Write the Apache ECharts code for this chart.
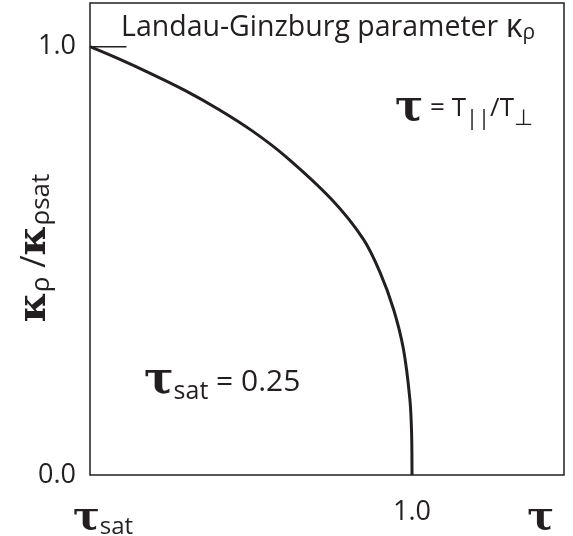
<!DOCTYPE html>
<html>
<head>
    <meta charset="utf-8">
    <script type="text/javascript" src="https://cdn.jsdelivr.net/npm/echarts@6/dist/echarts.min.js"></script>
</head>
<body style="margin:0">
	<div id="main" style="width:573px; height:536px"></div>
	<script type="text/javascript">
		// curve: tau vs kappa_rho / kappa_rho_sat
		var tau = [0.25, 0.316, 0.394, 0.471, 0.549, 0.627, 0.704, 0.813, 0.887, 0.926, 0.957, 0.980, 0.995, 0.999, 1.0];
		var kappaRatio = [1.0, 0.972, 0.936, 0.898, 0.854, 0.804, 0.745, 0.643, 0.550, 0.472, 0.387, 0.294, 0.177, 0.099, 0.0];

		// short leader line for the "Landau-Ginzburg parameter" label
		var leaderTau = [0.25, 0.335];
		var leaderKappa = [1.0, 1.0];

		var xTicks = [0.25, 1.0, 1.3];
		var xTickLabels = ['τsat', '1.0', 'τ'];
		var yTicks = [0, 1.0];
		var yTickLabels = ['0.0', '1.0'];

		var ink = '#231f20';
		var sans = '"Open Sans", "Noto Sans", sans-serif';
		var serif = '"DejaVu Serif", serif';

		var curve = [];
		for (var i = 0; i < tau.length; i++) {
			curve.push([tau[i], kappaRatio[i]]);
		}
		var leader = [];
		for (var j = 0; j < leaderTau.length; j++) {
			leader.push([leaderTau[j], leaderKappa[j]]);
		}

		var myChart = echarts.init(document.getElementById('main'));
		var option = {
			animation: false,
			grid: {
				left: 90, top: 3, right: 9, bottom: 61,
				outerBoundsMode: 'none',
				show: true, borderColor: ink, borderWidth: 1.5
			},
			xAxis: {
				type: 'value',
				min: 0.25,
				max: 1.354,
				axisLine: { show: false },
				axisTick: { show: false },
				splitLine: { show: false },
				axisLabel: {
					customValues: xTicks,
					margin: 24,
					color: ink,
					fontFamily: sans,
					fontSize: 27,
					formatter: function (v) {
						var s = xTickLabels[xTicks.indexOf(v)];
						if (s === 'τsat') return '{tf|τ}{sub|sat}';
						if (s === 'τ') return '{t|τ}';
						return s;
					},
					rich: {
						tf: { fontFamily: serif, fontWeight: 'bold', fontSize: 40, color: ink, padding: [0, 0, 0, 26] },
						t: { fontFamily: serif, fontWeight: 'bold', fontSize: 40, color: ink, padding: [0, 0, 16, 0] },
						sub: { fontFamily: sans, fontSize: 24, color: ink, verticalAlign: 'bottom', lineHeight: 24 }
					}
				}
			},
			yAxis: {
				type: 'value',
				min: 0,
				max: 1.102,
				axisLine: { show: false },
				axisTick: { show: false },
				splitLine: { show: false },
				name: '{k|κ}{r|ρ}{sl| /}{k|κ}{r|ρsat}',
				nameLocation: 'middle',
				nameRotate: 90,
				nameGap: 35,
				nameMoveOverlap: false,
				nameTextStyle: {
					color: ink,
					padding: [0, 0, 0, -18],
					rich: {
						k: { fontFamily: serif, fontWeight: 'bold', fontSize: 40, color: ink },
						r: { fontFamily: sans, fontSize: 26, color: ink, verticalAlign: 'bottom', lineHeight: 26 },
						sl: { fontFamily: sans, fontSize: 34, color: ink }
					}
				},
				axisLabel: {
					customValues: yTicks,
					margin: 14,
					color: ink,
					fontFamily: sans,
					fontSize: 27,
					formatter: function (v) {
						return yTickLabels[yTicks.indexOf(v)];
					}
				}
			},
			graphic: [
				{
					type: 'text', left: 121, top: 12,
					style: {
						text: 'Landau-Ginzburg parameter {r|κ}{s|ρ}',
						fill: ink,
						font: '28.5px ' + sans,
						rich: {
							r: { fontFamily: sans, fontSize: 32, fill: ink },
							s: { fontFamily: sans, fontSize: 21, fill: ink, verticalAlign: 'bottom', lineHeight: 21 }
						}
					}
				},
				{
					type: 'text', left: 395, top: 88,
					style: {
						text: '{t|τ} = T{s|||}/T{s|⊥}',
						fill: ink,
						font: '26px ' + sans,
						rich: {
							t: { fontFamily: serif, fontWeight: 'bold', fontSize: 42, fill: ink },
							s: { fontFamily: sans, fontSize: 22, fill: ink, verticalAlign: 'bottom', lineHeight: 22 }
						}
					}
				},
				{
					type: 'text', left: 144, top: 360,
					style: {
						text: '{t|τ}{s|sat} = 0.25',
						fill: ink,
						font: '30px ' + sans,
						rich: {
							t: { fontFamily: serif, fontWeight: 'bold', fontSize: 44, fill: ink },
							s: { fontFamily: sans, fontSize: 25, fill: ink, verticalAlign: 'bottom', lineHeight: 25 }
						}
					}
				}
			],
			series: [
				{
					type: 'line',
					data: curve,
					smooth: 0.3,
					symbol: 'none',
					lineStyle: { color: ink, width: 3 }
				},
				{
					type: 'line',
					data: leader,
					symbol: 'none',
					lineStyle: { color: ink, width: 1.5 }
				}
			]
		};

		myChart.setOption(option);
	</script>
</body>
</html>
